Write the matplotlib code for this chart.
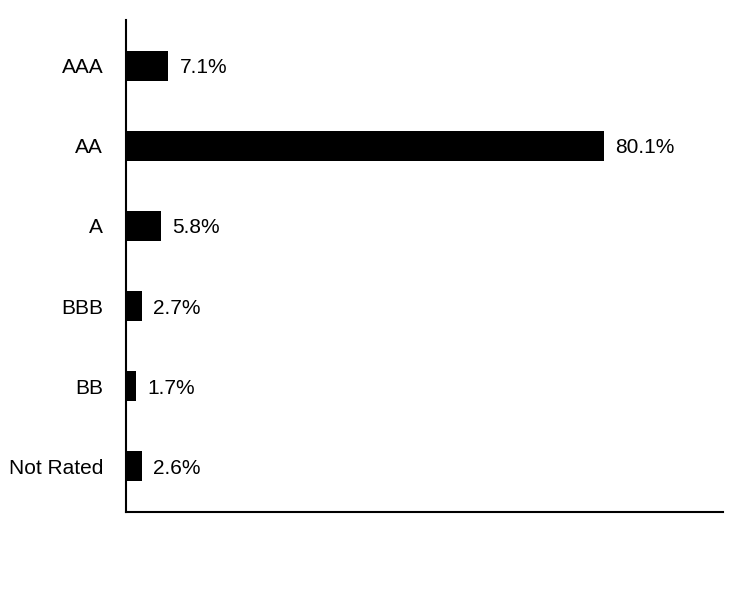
import matplotlib
matplotlib.use("Agg")
import matplotlib.pyplot as plt

categories = ["AAA", "AA", "A", "BBB", "BB", "Not Rated"]
values = [7.1, 80.1, 5.8, 2.7, 1.7, 2.6]
labels = ["7.1%", "80.1%", "5.8%", "2.7%", "1.7%", "2.6%"]

plt.rcParams['font.family'] = ['Liberation Sans', 'DejaVu Sans']

fig = plt.figure(figsize=(7.44, 6.0), dpi=100)
ax = fig.add_axes([126/744, 88/600, 597/744, 492/600])

y = list(range(len(categories)))
bars = ax.barh(y, values, height=0.375, color="black")
ax.set_xlim(0, 100)
ax.set_ylim(len(categories) - 0.43, -0.57)
ax.set_yticks(y)
ax.set_yticklabels(categories, fontsize=15)
ax.tick_params(axis='y', length=0, pad=16.5)
ax.set_xticks([])
for spine in ["top", "right"]:
    ax.spines[spine].set_visible(False)
for spine in ["left", "bottom"]:
    ax.spines[spine].set_linewidth(1.5)

for b, lab in zip(bars, labels):
    ax.annotate(lab, (b.get_width(), b.get_y() + b.get_height() / 2),
                xytext=(8, 0), textcoords="offset points",
                va="center_baseline", ha="left", fontsize=15)

fig.savefig("out.png", dpi=100)
